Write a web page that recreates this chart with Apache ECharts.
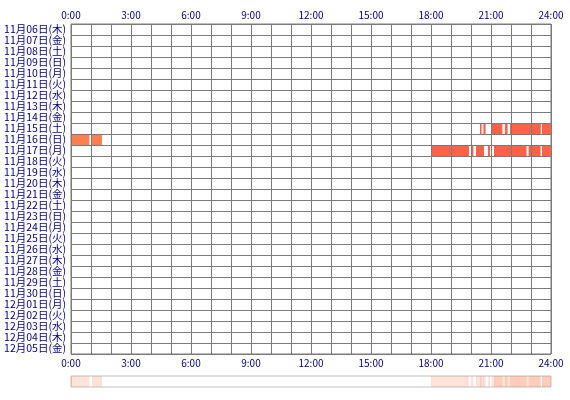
<!DOCTYPE html>
<html><head><meta charset="utf-8">
<script src="https://cdn.jsdelivr.net/npm/echarts@6/dist/echarts.min.js"></script>
<style>html,body{margin:0;padding:0;background:#fff}#c{width:570px;height:400px}</style>
</head><body><div id="c"></div>
<script>
const days = ['11月06日(木)','11月07日(金)','11月08日(土)','11月09日(日)','11月10日(月)','11月11日(火)','11月12日(水)','11月13日(木)','11月14日(金)','11月15日(土)','11月16日(日)','11月17日(月)','11月18日(火)','11月19日(水)','11月20日(木)','11月21日(金)','11月22日(土)','11月23日(日)','11月24日(月)','11月25日(火)','11月26日(水)','11月27日(木)','11月28日(金)','11月29日(土)','11月30日(日)','12月01日(月)','12月02日(火)','12月03日(水)','12月04日(木)','12月05日(金)'];
const hourTicks = [0,3,6,9,12,15,18,21,24];
// activity segments [start hour, end hour]
const act1115 = [[20.45,20.53],[20.62,20.73],[21.03,21.57],[21.70,21.83],[21.95,23.49],[23.55,24.0]];
const act1116 = [[0,0.92],[1.05,1.55]];
const act1117 = [[18.0,19.9],[20.0,20.12],[20.25,20.65],[20.85,20.95],[21.15,22.78],[22.88,23.48],[23.55,24.0]];
const act1118 = [[0,0.05]];

const rows = [
  {day:'11月15日(土)', segs:act1115, color:'#FF6347'},
  {day:'11月16日(日)', segs:act1116, color:'#FF7F50'},
  {day:'11月17日(月)', segs:act1117, color:'#FF6347'},
  {day:'11月18日(火)', segs:act1118, color:'#FF7F50'}
];
const mainData = [], stripData = [];
rows.forEach(r => {
  const idx = days.indexOf(r.day);
  r.segs.forEach(s => {
    mainData.push({value:[s[0], s[1], idx], itemStyle:{color:r.color}});
    stripData.push({value:[s[0], s[1], 0]});
  });
});

function renderMain(params, api){
  const a = api.coord([api.value(0), api.value(2)]);
  const b = api.coord([api.value(1), api.value(2)]);
  const h = api.size([0,1])[1];
  return {type:'rect', shape:{x:a[0], y:a[1]-h/2, width:b[0]-a[0], height:h}, style:{fill:api.visual('color')}};
}
function renderStrip(params, api){
  const a = api.coord([api.value(0), 0]);
  const b = api.coord([api.value(1), 0]);
  const h = api.size([0,1])[1];
  return {type:'rect', shape:{x:a[0], y:a[1]-h/2, width:b[0]-a[0], height:h}, style:{fill:'rgba(255,127,80,0.22)'}};
}
const fmt = v => hourTicks.indexOf(v) >= 0 ? v + ':00' : '';
const font = '"Noto Sans CJK JP", sans-serif';
const xBase = {type:'value', min:0, max:24, interval:1, gridIndex:0, z:5,
  axisLine:{show:false}, axisTick:{show:false},
  axisLabel:{formatter:fmt, color:'#000080', fontSize:10, margin:4, fontFamily:font}};

const chart = echarts.init(document.getElementById('c'), null, {renderer:'canvas'});
chart.setOption({
  animation:false,
  backgroundColor:'#fff',
  grid:[
    {left:71, top:24, width:480, height:330, show:true, borderColor:'#7a7a7a', borderWidth:1, backgroundColor:'#fff'},
    {left:71, top:376, width:480, height:11, show:true, borderColor:'#c0c0c0', borderWidth:1, backgroundColor:'#fff'}
  ],
  xAxis:[
    Object.assign({}, xBase, {position:'top', splitLine:{show:true, lineStyle:{color:'#7a7a7a', width:1}}}),
    Object.assign({}, xBase, {position:'bottom', splitLine:{show:false}}),
    {type:'value', gridIndex:1, min:0, max:24, show:false, splitLine:{show:false}}
  ],
  yAxis:[
    {type:'category', gridIndex:0, data:days, inverse:true, z:5,
     axisLine:{show:false}, axisTick:{show:false},
     splitLine:{show:true, interval:0, lineStyle:{color:'#7a7a7a', width:1}},
     axisLabel:{interval:0, color:'#000080', fontSize:10.5, margin:5, fontFamily:font}},
    {type:'category', gridIndex:1, data:['all'], show:false}
  ],
  series:[
    {type:'custom', xAxisIndex:0, yAxisIndex:0, renderItem:renderMain, encode:{x:[0,1], y:2}, data:mainData},
    {type:'custom', xAxisIndex:2, yAxisIndex:1, renderItem:renderStrip, encode:{x:[0,1], y:2}, data:stripData}
  ]
});
</script></body></html>
